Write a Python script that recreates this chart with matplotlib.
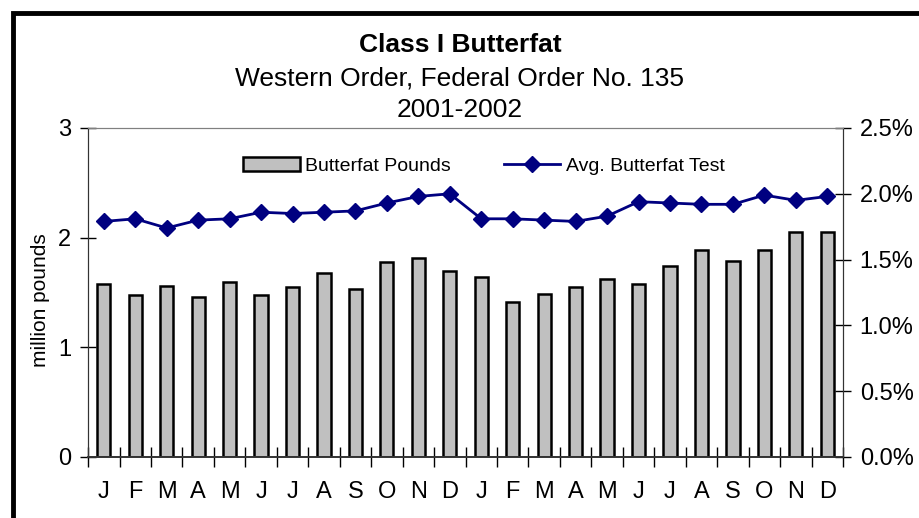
import numpy as np
import matplotlib
matplotlib.use("Agg")
import matplotlib.pyplot as plt
from matplotlib.patches import Rectangle
from matplotlib.ticker import FuncFormatter

plt.rcParams["font.family"] = ["Liberation Sans", "DejaVu Sans"]

months = ["J", "F", "M", "A", "M", "J", "J", "A", "S", "O", "N", "D"] * 2
pounds = [1.58, 1.48, 1.56, 1.46, 1.60, 1.48, 1.55, 1.68, 1.53, 1.78, 1.81, 1.70,
          1.64, 1.41, 1.49, 1.55, 1.62, 1.58, 1.74, 1.89, 1.79, 1.89, 2.05, 2.05]
test_pct = [1.79, 1.81, 1.74, 1.80, 1.81, 1.86, 1.85, 1.86, 1.87, 1.93, 1.98, 2.00,
            1.81, 1.81, 1.80, 1.79, 1.83, 1.94, 1.93, 1.92, 1.92, 1.99, 1.95, 1.98]

fig = plt.figure(figsize=(9.2, 5.18), dpi=100)
ax = fig.add_axes([0.0957, 0.1178, 0.8206, 0.6351])
ax2 = ax.twinx()

x = np.arange(len(months))
bars = ax.bar(x, pounds, width=0.42, color="#c0c0c0", edgecolor="black", lw=1.8,
              label="Butterfat Pounds", zorder=2)
line, = ax2.plot(x, test_pct, color="#000080", lw=2, marker="D", ms=8.5,
                 label="Avg. Butterfat Test", zorder=3)

ax.set_xlim(-0.5, len(months) - 0.5)
ax.set_ylim(0, 3)
ax2.set_ylim(0, 2.5)
ax.set_yticks([0, 1, 2, 3])
ax2.set_yticks([0, 0.5, 1.0, 1.5, 2.0, 2.5])
ax2.yaxis.set_major_formatter(FuncFormatter(lambda v, p: f"{v:.1f}%"))

ax.set_xticks(x)
ax.set_xticklabels(months)
ax.set_xticks(np.arange(-0.5, len(months)), minor=True)
ax.tick_params(axis="x", which="minor", direction="inout", length=14, width=1)
ax.tick_params(axis="x", which="major", length=0, pad=17, labelsize=17)
ax.tick_params(axis="y", direction="inout", length=12, width=1, labelsize=17, pad=6)
ax2.tick_params(axis="y", direction="inout", length=12, width=1, labelsize=17, pad=6)

for a in (ax, ax2):
    a.spines["top"].set_color("#808080")
    a.spines["left"].set_color("#333333")
    a.spines["right"].set_color("#333333")
    a.spines["bottom"].set_color("#333333")
    a.spines["bottom"].set_linewidth(1.2)

ax.set_ylabel("million pounds", fontsize=15)
ax.yaxis.set_label_coords(-0.05, 0.477)

ax.legend([bars, line], ["Butterfat Pounds", "Avg. Butterfat Test"], loc="upper center",
          bbox_to_anchor=(0.5245, 0.965), ncol=2, frameon=False, fontsize=14,
          handlelength=2.9, handletextpad=0.3, columnspacing=2.7)

fig.text(0.5, 0.913, "Class I Butterfat", ha="center", va="center",
         fontsize=19, fontweight="bold")
fig.text(0.5, 0.848, "Western Order, Federal Order No. 135", ha="center", va="center",
         fontsize=19)
fig.text(0.5, 0.787, "2001-2002", ha="center", va="center", fontsize=19)

fig.patches.append(Rectangle((13 / 920, -0.1), 1.2, 1.1 - 13 / 518, transform=fig.transFigure,
                             fill=False, edgecolor="black", lw=3.5, clip_on=False))

fig.savefig("out.png", dpi=100)
